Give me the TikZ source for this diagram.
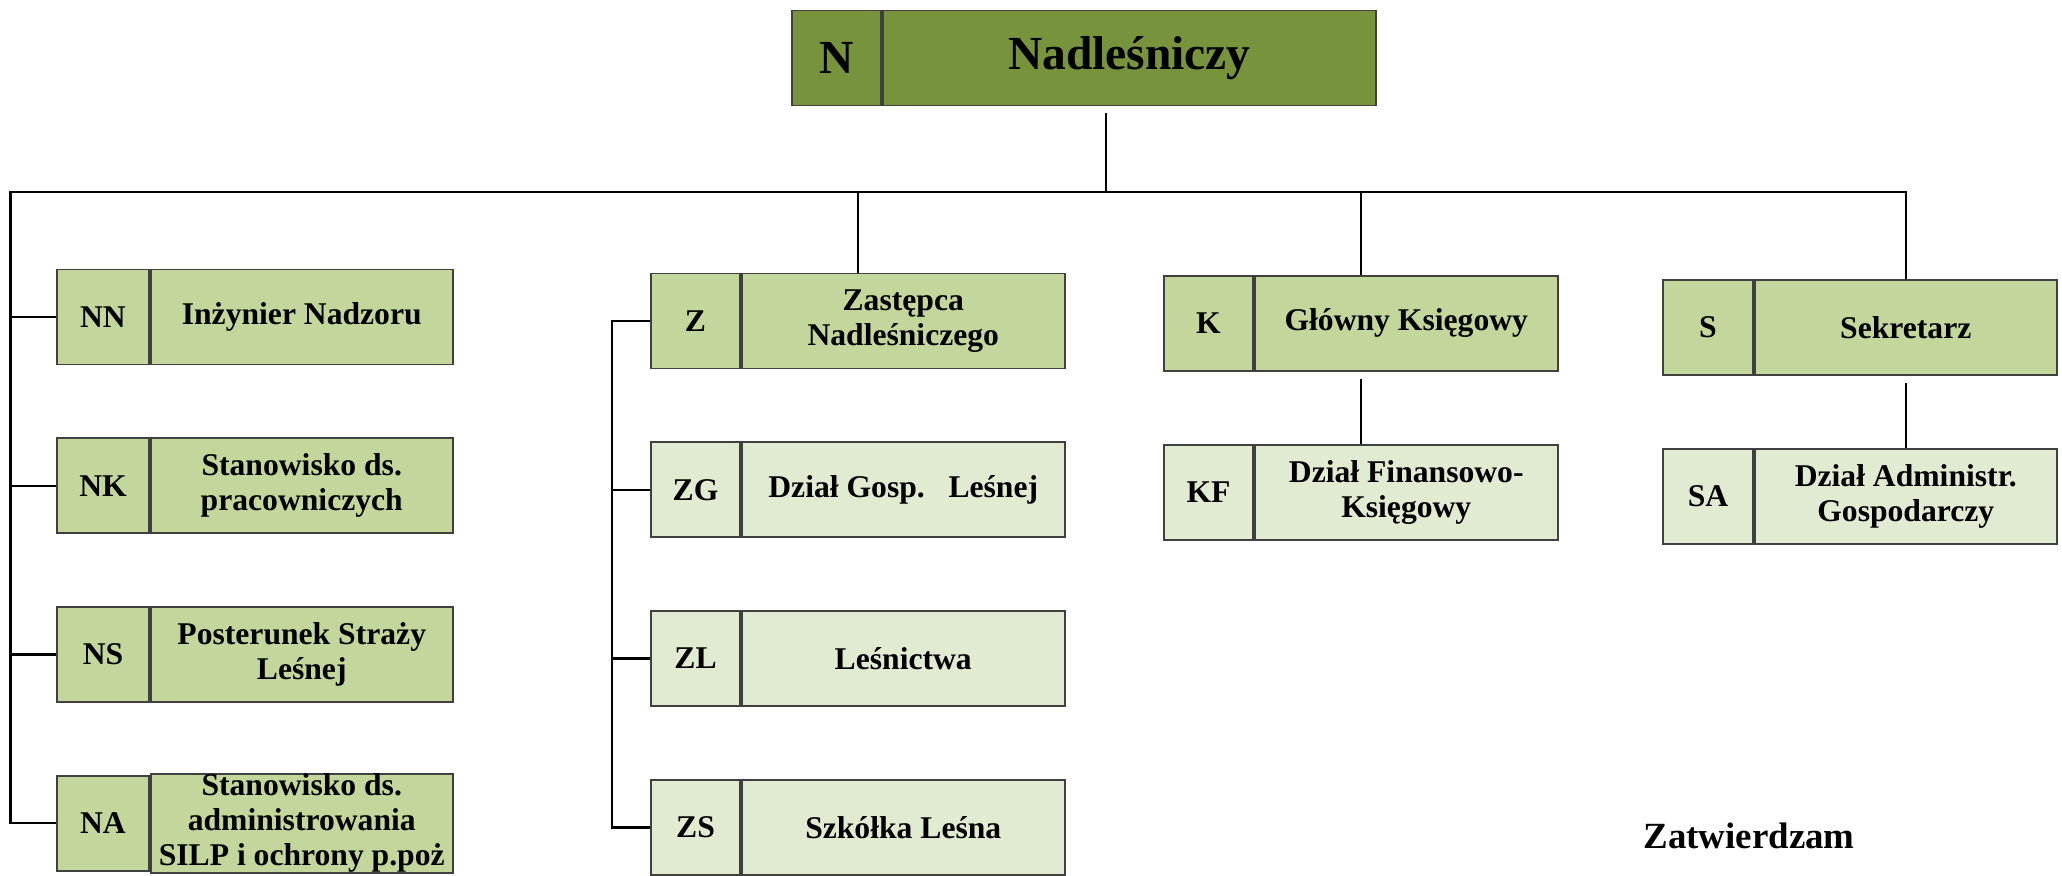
\documentclass[tikz,border=0pt]{standalone}
\usepackage{fontspec}
\setmainfont{Liberation Serif}
\usetikzlibrary{positioning, calc}

\definecolor{olivedark}{HTML}{77933C}
\definecolor{olivemid}{HTML}{C3D69B}
\definecolor{olivelight}{HTML}{E1EBD1}

\begin{document}
\begin{tikzpicture}[
            node distance=0.72cm and 0pt,
            % Styles for the two-cell boxes
            cell/.style={rectangle, draw=black!75, line width=0.5pt, inner sep=0pt,
                    minimum height=0.95cm, align=center,
                    font=\fontsize{9}{10}\selectfont\bfseries},
            headcode/.style={cell, fill=olivedark, minimum width=0.89cm,
                    font=\fontsize{13.5}{16}\selectfont\bfseries},
            headname/.style={cell, fill=olivedark, minimum width=4.93cm,
                    font=\fontsize{13.5}{16}\selectfont\bfseries},
            unitcode/.style={cell, fill=olivemid, minimum width=#1}, unitcode/.default=0.9cm,
            unitname/.style={cell, fill=olivemid, minimum width=#1}, unitname/.default=3.02cm,
            subcode/.style={cell, fill=olivelight, minimum width=#1}, subcode/.default=0.9cm,
            subname/.style={cell, fill=olivelight, minimum width=#1}, subname/.default=3.02cm,
            link/.style={draw, black, line width=0.7pt},
            thinlink/.style={draw, black, line width=0.5pt, shorten <=0.07cm},
    ]
            \useasboundingbox (0,0) rectangle (20.62,-8.76);

            % === HEAD ===
            \node[headcode] (nc) at (8.365,-0.58) {N};
            \node[headname, right=of nc] (nadl) {Nadleśniczy};

            % === LEFT COLUMN (N...) ===
            \node[unitcode=0.92cm] (nnc) at (1.03,-3.17) {NN};
            \node[unitname, right=of nnc] (nn) {Inżynier Nadzoru};
            \node[unitcode=0.92cm, below=of nnc] (nkc) {NK};
            \node[unitname, right=of nkc] (nk) {Stanowisko ds.\\pracowniczych};
            \node[unitcode=0.92cm, below=of nkc] (nsc) {NS};
            \node[unitname, right=of nsc] (ns) {Posterunek Straży\\Leśnej};
            \node[unitcode=0.92cm, below=of nsc] (nac) {NA};
            \node[unitname, right=of nac] (na) {Stanowisko ds.\\administrowania\\SILP i ochrony p.poż};

            % === DEPUTY COLUMN (Z...) ===
            \node[unitcode=0.89cm] (zc) at (6.955,-3.21) {Z};
            \node[unitname=3.23cm, right=of zc] (zast) {Zastępca\\Nadleśniczego};
            \node[subcode=0.89cm, below=of zc] (zgc) {ZG};
            \node[subname=3.23cm, right=of zgc] (zg) {Dział Gosp.~~~Leśnej};
            \node[subcode=0.89cm, below=of zgc] (zlc) {ZL};
            \node[subname=3.23cm, right=of zlc] (zl) {Leśnictwa};
            \node[subcode=0.89cm, below=of zlc] (zsc) {ZS};
            \node[subname=3.23cm, right=of zsc] (zs) {Szkółka Leśna};

            % === ACCOUNTANT COLUMN (K...) ===
            \node[unitcode=0.89cm] (kc) at (12.085,-3.235) {K};
            \node[unitname=3.03cm, right=of kc] (ksieg) {Główny Księgowy};
            \node[subcode=0.89cm, below=of kc] (kfc) {KF};
            \node[subname=3.03cm, right=of kfc] (kf) {Dział Finansowo-\\Księgowy};

            % === SECRETARY COLUMN (S...) ===
            \node[unitcode] (sc) at (17.08,-3.275) {S};
            \node[unitname, right=of sc] (sek) {Sekretarz};
            \node[subcode, below=of sc] (sac) {SA};
            \node[subname, right=of sac] (sa) {Dział Administr.\\Gospodarczy};

            % === NOTE ===
            \node[font=\fontsize{10.5}{12}\selectfont\bfseries] (zatw) at (17.49,-8.36) {Zatwierdzam};

            % === CONNECTIONS ===
            \coordinate (hub) at (11.06,-1.92);
            \coordinate (busleft) at (0.105,-1.92);
            \draw[link, shorten <=0.07cm] (nadl.south -| hub) -- (hub);

            % Main bus, left drop to NA and right drop to S
            \draw[link] (nac.west) -| (busleft) -| (sek.north);
            \foreach \n in {nnc,nkc,nsc}
                \draw[link] (\n.west) -- (\n.west -| busleft);

            % Drops to Z and K
            \coordinate (zmid) at ($(zc.north west)!0.5!(zast.north east)$);
            \coordinate (kmid) at ($(kc.north west)!0.5!(ksieg.north east)$);
            \draw[link] (zmid) -- (zmid |- hub);
            \draw[link] (kmid) -- (kmid |- hub);

            % Deputy branch
            \draw[link] (zc.west) -- ++(-0.38,0) |- (zsc.west);
            \foreach \n in {zgc,zlc}
                \draw[link] (\n.west) -- ++(-0.38,0);

            % Sub-units of K and S
            \draw[thinlink] ($(kc.south west)!0.5!(ksieg.south east)$) -- ($(kfc.north west)!0.5!(kf.north east)$);
            \draw[thinlink] (sek.south) -- (sa.north);

        \end{tikzpicture}
\end{document}
